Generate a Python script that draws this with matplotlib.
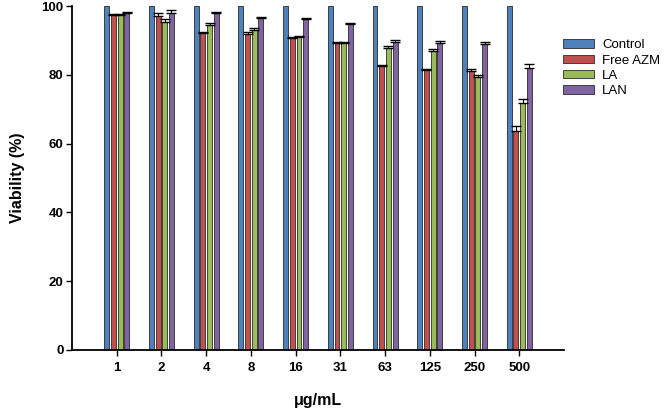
import matplotlib
matplotlib.use("Agg")
import matplotlib.pyplot as plt
import numpy as np

plt.rcParams["font.family"] = ["Liberation Sans", "DejaVu Sans"]

categories = ["1", "2", "4", "8", "16", "31", "63", "125", "250", "500"]
control = [100, 100, 100, 100, 100, 100, 100, 100, 100, 100]
free_azm = [97.5, 97.1, 92.2, 92.0, 90.7, 89.3, 82.6, 81.4, 81.2, 63.8]
la = [97.3, 95.4, 94.5, 93.0, 91.0, 89.2, 87.9, 87.0, 79.5, 71.7]
lan = [98.0, 98.0, 97.9, 96.4, 96.1, 94.8, 89.6, 89.3, 89.1, 81.9]
free_azm_err = [0.2, 0.8, 0.3, 0.3, 0.3, 0.3, 0.3, 0.3, 0.5, 1.2]
la_err = [0.3, 0.7, 0.5, 0.5, 0.3, 0.3, 0.4, 0.5, 0.3, 1.2]
lan_err = [0.3, 0.8, 0.4, 0.4, 0.3, 0.3, 0.4, 0.5, 0.5, 1.2]

series = [("Control", control, None, "#4F81BD"),
          ("Free AZM", free_azm, free_azm_err, "#C0504D"),
          ("LA", la, la_err, "#9BBB59"),
          ("LAN", lan, lan_err, "#8064A2")]

fig = plt.figure(figsize=(6.69, 4.09), dpi=100)
ax = fig.add_axes([0.1076, 0.1443, 0.843 - 0.1076, 0.9853 - 0.1443])

x = np.arange(len(categories))
pitch = 0.15
width = 0.11
handles = []
for i, (name, vals, err, col) in enumerate(series):
    pos = x + (i - 1.5) * pitch
    b = ax.bar(pos, vals, width=width, color=col, edgecolor="#2a2a2a", linewidth=0.6, label=name)
    handles.append(b)
    if err is not None:
        ax.errorbar(pos, vals, yerr=[np.zeros(len(err)), err], fmt="none", ecolor="black",
                    elinewidth=0.8, capsize=3.5, capthick=1.0)

ax.set_xlim(-1, 10)
ax.set_ylim(0, 100)
ax.set_yticks([0, 20, 40, 60, 80, 100])
ax.set_xticks(x)
ax.set_xticklabels(categories)
for lbl in ax.get_xticklabels() + ax.get_yticklabels():
    lbl.set_fontweight("bold")
    lbl.set_fontsize(9.5)
ax.spines["top"].set_visible(False)
ax.spines["right"].set_visible(False)
ax.spines["left"].set_linewidth(1.3)
ax.spines["bottom"].set_linewidth(1.3)
ax.tick_params(axis="both", direction="out", length=4, width=1.0)
ax.tick_params(axis="x", pad=5)
ax.tick_params(axis="y", pad=2)
ax.set_ylabel("Viability (%)", fontsize=11.5, fontweight="bold", labelpad=12)
ax.set_xlabel("μg/mL", fontsize=11.5, fontweight="bold", labelpad=13)

fig.legend(handles=handles, labels=[s[0] for s in series], loc="upper left",
           bbox_to_anchor=(0.8336, 0.917), frameon=False, fontsize=9.5,
           handlelength=2.35, handleheight=0.6, handletextpad=0.6, labelspacing=0.25,
           borderaxespad=0.0)

fig.savefig("out.png", dpi=100)
